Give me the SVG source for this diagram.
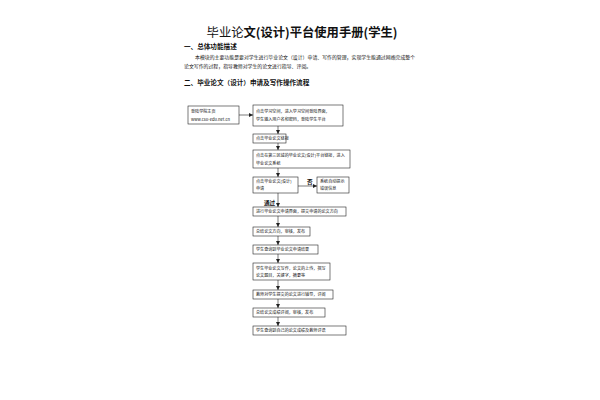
<svg xmlns="http://www.w3.org/2000/svg" width="600" height="400" viewBox="0 0 600 400">
<style>
.t{font-family:"Noto Sans CJK SC","Liberation Sans",sans-serif;fill:#111}
.b{font-size:4.1px}
.h{font-size:6.6px;font-weight:bold}
.p{font-size:4.9px}
.box{fill:#fff;stroke:#222;stroke-width:0.6}
.ln{stroke:#222;stroke-width:0.6;fill:none}
.lb{font-weight:bold;font-size:5.6px}
</style>
<defs>
<marker id="ah" markerUnits="userSpaceOnUse" markerWidth="4" markerHeight="4" viewBox="0 0 4 4" refX="4" refY="2" orient="auto">
<path d="M0,0 L4,2 L0,4 z" fill="#222"/>
</marker>
</defs>
<rect width="600" height="400" fill="#fff"/>
<g id="header">
<text class="t" x="302" y="37" font-size="12.3" text-anchor="middle"><tspan>毕业论</tspan><tspan font-weight="bold">文(设计)平台使用手册(学生)</tspan></text>
<text class="t h" x="184" y="49">一、总体功能描述</text>
<text class="t p" x="195" y="59">本模块的主要功能是要对学生进行毕业论文（设计）申请、写作的管理，实现学生能通过网络完成整个</text>
<text class="t p" x="184" y="68">论文写作的过程，指导教师对学生的论文进行指导、评阅。</text>
<text class="t h" x="184" y="85">二、毕业论文（设计）申请及写作操作流程</text>
</g>
<g id="connectors">
<line class="ln" x1="239" y1="115" x2="253" y2="115" marker-end="url(#ah)"/>
<line class="ln" x1="278" y1="126" x2="278" y2="134" marker-end="url(#ah)"/>
<line class="ln" x1="278" y1="143" x2="278" y2="150" marker-end="url(#ah)"/>
<line class="ln" x1="278" y1="168" x2="278" y2="177" marker-end="url(#ah)"/>
<line class="ln" x1="298" y1="186" x2="317" y2="186" marker-end="url(#ah)"/>
<line class="ln" x1="278" y1="193" x2="278" y2="207" marker-end="url(#ah)"/>
<line class="ln" x1="278" y1="216" x2="278" y2="227" marker-end="url(#ah)"/>
<line class="ln" x1="278" y1="236" x2="278" y2="245" marker-end="url(#ah)"/>
<line class="ln" x1="278" y1="254" x2="278" y2="263" marker-end="url(#ah)"/>
<line class="ln" x1="278" y1="280" x2="278" y2="290" marker-end="url(#ah)"/>
<line class="ln" x1="278" y1="299" x2="278" y2="308" marker-end="url(#ah)"/>
<line class="ln" x1="278" y1="317" x2="278" y2="326" marker-end="url(#ah)"/>
<text class="t lb" x="307" y="184">否</text>
<text class="t lb" x="264" y="205">通过</text>
</g>
<g id="n1"><rect class="box" x="188" y="106" width="51" height="18"/>
<text class="t b" x="191" y="113">登陆学院主页</text><text class="t b" x="191" y="121" font-family="Liberation Mono,monospace" font-size="3.6">www.csu-edu.net.cn</text></g>
<g id="n2"><rect class="box" x="253" y="105" width="90" height="21"/>
<text class="t b" x="256" y="113">点击学习空间，进入学习空间登陆界面，</text><text class="t b" x="256" y="121">学生输入用户名和密码，登陆学生平台</text></g>
<g id="n3"><rect class="box" x="253" y="134" width="33" height="9"/>
<text class="t b" x="256" y="140" font-size="3.5">点击毕业论文链接</text></g>
<g id="n4"><rect class="box" x="253" y="150" width="97" height="18"/>
<text class="t b" x="256" y="157">点击在第三区域的毕业论文(设计)平台链接，进入</text><text class="t b" x="256" y="165">毕业论文系统</text></g>
<g id="n5"><rect class="box" x="253" y="177" width="45" height="16"/>
<text class="t b" x="256" y="183">点击毕业论文(设计)</text><text class="t b" x="256" y="190">申请</text></g>
<g id="n6"><rect class="box" x="317" y="177" width="32" height="16"/>
<text class="t b" x="320" y="183">系统自动提示</text><text class="t b" x="320" y="190">错误信息</text></g>
<g id="n7"><rect class="box" x="253" y="207" width="93" height="9"/>
<text class="t b" x="256" y="213">进行毕业论文申请界面，提交申请的论文方向</text></g>
<g id="n8"><rect class="box" x="253" y="227" width="57" height="9"/>
<text class="t b" x="256" y="233">总结论文方向，审核，发布</text></g>
<g id="n9"><rect class="box" x="253" y="245" width="65" height="9"/>
<text class="t b" x="256" y="251">学生查询到毕业论文申请结果</text></g>
<g id="n10"><rect class="box" x="253" y="263" width="77" height="17"/>
<text class="t b" x="256" y="270">学生毕业论文写作，论文的上传，撰写</text><text class="t b" x="256" y="277">论文题目，关键字，摘要等</text></g>
<g id="n11"><rect class="box" x="253" y="290" width="80" height="9"/>
<text class="t b" x="256" y="296">教师对学生提交的论文进行辅导，评阅</text></g>
<g id="n12"><rect class="box" x="253" y="308" width="72" height="9"/>
<text class="t b" x="256" y="314">总结论文成绩评阅，审核，发布</text></g>
<g id="n13"><rect class="box" x="253" y="326" width="93" height="9"/>
<text class="t b" x="256" y="332">学生查询到自己的论文成绩及教师评语</text></g>
</svg>
